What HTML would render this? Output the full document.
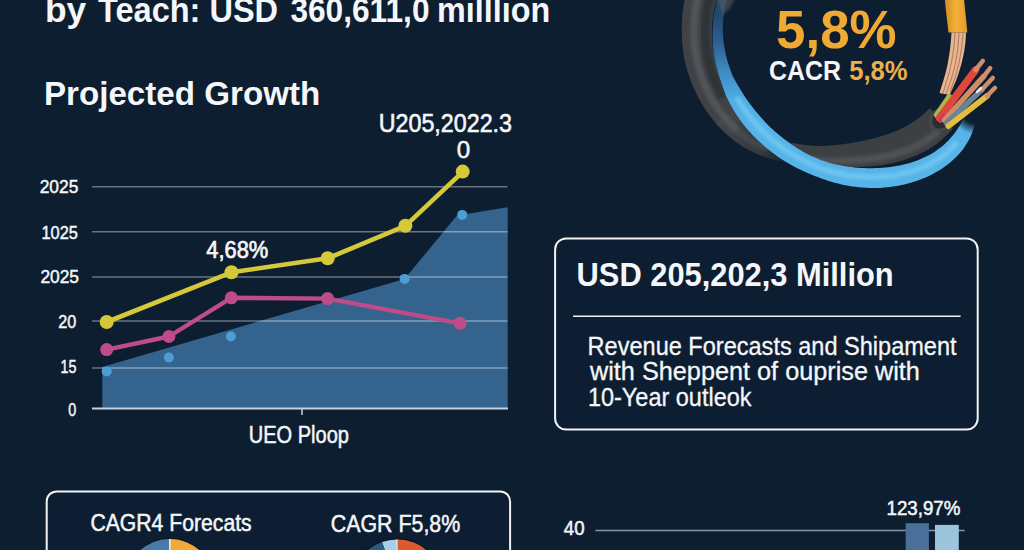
<!DOCTYPE html>
<html><head><meta charset="utf-8">
<style>
html,body{margin:0;padding:0;background:#0d1e31;}
body{width:1024px;height:550px;overflow:hidden;}
svg{display:block;}
text{font-family:"Liberation Sans",Arial,sans-serif;}
.w{fill:#f4f6f9;}
.b{font-weight:bold;}
.s5{stroke:#f4f6f9;stroke-width:0.5;}
.s3{stroke:#f4f6f9;stroke-width:0.3;}
</style></head>
<body>
<svg width="1024" height="550" viewBox="0 0 1024 550">
<rect x="0" y="0" width="1024" height="550" fill="#0d1e31"/>


<!-- Chart grid -->
<polygon points="102.3,408 102.3,367 404.5,279 457,215.5 507.7,207.3 507.7,408" fill="#34638d"/>
<g stroke="#ffffff" stroke-opacity="0.38" stroke-width="1.5">
<line x1="92" y1="186.8" x2="507.5" y2="186.8"/>
<line x1="92" y1="231.7" x2="507.5" y2="231.7"/>
<line x1="92" y1="276.9" x2="507.5" y2="276.9"/>
<line x1="92" y1="321.1" x2="507.5" y2="321.1"/>
<line x1="92" y1="368" x2="507.5" y2="368"/>
</g>
<line x1="92" y1="408.6" x2="508" y2="408.6" stroke="#c9d2dc" stroke-width="2"/>
<line x1="302" y1="408" x2="302" y2="415" stroke="#c9d2dc" stroke-width="1.5"/>


<!-- pink line -->
<polyline points="106.7,349.6 168.9,336.5 231.3,297.8 327.6,298.6 460.1,323.3" fill="none" stroke="#bd4c88" stroke-width="4.4" stroke-linejoin="round"/>
<g fill="#bd4c88">
<circle cx="106.7" cy="349.6" r="6.5"/><circle cx="168.9" cy="336.5" r="6.5"/><circle cx="231.3" cy="297.8" r="6.5"/><circle cx="327.6" cy="298.6" r="6.5"/><circle cx="460.1" cy="323.3" r="6.5"/>
</g>
<!-- yellow line -->
<polyline points="106.7,322 231.5,272.3 327.7,258.3 405.4,225.8 462.7,171.8" fill="none" stroke="#d5c839" stroke-width="4.6" stroke-linejoin="round"/>
<g fill="#d5c839">
<circle cx="106.7" cy="322" r="7"/><circle cx="231.5" cy="272.3" r="7"/><circle cx="327.7" cy="258.3" r="7"/><circle cx="405.4" cy="225.8" r="7"/><circle cx="462.7" cy="171.6" r="7"/>
</g>
<!-- blue dots -->
<g fill="#4c9fd2">
<circle cx="106.7" cy="371.4" r="5"/><circle cx="168.9" cy="357.5" r="5"/><circle cx="230.9" cy="336.5" r="5"/><circle cx="404.6" cy="278.9" r="5"/><circle cx="462.2" cy="214.9" r="5"/>
</g>


<!--CABLE_START-->
<defs>
  <linearGradient id="gBlue" gradientUnits="userSpaceOnUse" x1="0" y1="0" x2="0" y2="125">
    <stop offset="0" stop-color="#20425f"/>
    <stop offset="0.16" stop-color="#234c74"/>
    <stop offset="0.32" stop-color="#2b5e90"/>
    <stop offset="0.56" stop-color="#3d88c0"/>
    <stop offset="0.8" stop-color="#50ade2"/>
    <stop offset="1" stop-color="#57b4e8"/>
  </linearGradient>
  <linearGradient id="gDarkL" gradientUnits="userSpaceOnUse" x1="722" y1="118" x2="790" y2="168">
    <stop offset="0" stop-color="#45474b" stop-opacity="1"/>
    <stop offset="0.6" stop-color="#3e4044" stop-opacity="0.8"/>
    <stop offset="1" stop-color="#34373b" stop-opacity="0.15"/>
  </linearGradient>
  <linearGradient id="gGold" gradientUnits="userSpaceOnUse" x1="946" y1="0" x2="968" y2="0">
    <stop offset="0" stop-color="#d58f22"/>
    <stop offset="0.45" stop-color="#f4b23a"/>
    <stop offset="1" stop-color="#e09a28"/>
  </linearGradient>
  <radialGradient id="gEndFade" gradientUnits="userSpaceOnUse" cx="974" cy="112" r="22">
    <stop offset="0" stop-color="#000"/>
    <stop offset="0.5" stop-color="#000"/>
    <stop offset="1" stop-color="#fff"/>
  </radialGradient>
  <mask id="mBlue" maskUnits="userSpaceOnUse" x="600" y="-10" width="424" height="220">
    <rect x="600" y="-10" width="424" height="220" fill="url(#gEndFade)"/>
  </mask>
  <filter id="bl1" x="-20%" y="-20%" width="140%" height="140%"><feGaussianBlur stdDeviation="1.6"/></filter>
  <filter id="bl05" x="-20%" y="-20%" width="140%" height="140%"><feGaussianBlur stdDeviation="0.6"/></filter>
</defs>
<g>
<path d="M687.2,-10.8 L686.8,-9.6 L686.5,-8.3 L686.2,-7.0 L685.9,-5.8 L685.6,-4.5 L685.3,-3.3 L685.0,-2.0 L684.8,-0.7 L684.5,0.5 L684.3,1.8 L684.0,3.1 L683.8,4.3 L683.6,5.6 L683.4,6.9 L683.2,8.2 L683.1,9.4 L682.9,10.7 L682.8,12.0 L682.6,13.2 L682.5,14.5 L682.4,15.8 L682.3,17.0 L682.2,18.3 L682.1,19.6 L682.0,20.9 L681.9,22.1 L681.9,23.4 L681.9,24.7 L681.8,25.9 L681.8,27.2 L681.8,28.4 L681.8,29.7 L681.8,31.0 L681.8,32.2 L681.8,33.5 L681.9,34.7 L681.9,36.0 L681.9,37.3 L682.0,38.5 L682.1,39.8 L682.1,41.0 L682.2,42.3 L682.3,43.5 L682.4,44.8 L682.6,46.0 L682.7,47.2 L682.8,48.5 L683.0,49.7 L683.1,51.0 L683.3,52.2 L683.5,53.4 L683.7,54.7 L683.9,55.9 L684.1,57.1 L684.3,58.3 L684.5,59.6 L684.8,60.8 L685.0,62.0 L685.3,63.2 L685.6,64.4 L685.9,65.6 L686.3,66.8 L686.6,68.0 L686.9,69.2 L687.3,70.4 L687.6,71.5 L688.0,72.7 L688.4,73.9 L688.8,75.1 L689.1,76.2 L689.5,77.4 L690.0,78.5 L690.4,79.7 L690.8,80.8 L691.3,82.0 L691.7,83.1 L692.2,84.2 L692.6,85.4 L693.1,86.5 L693.6,87.6 L694.1,88.7 L694.6,89.8 L695.1,90.9 L695.6,92.0 L696.1,93.1 L696.7,94.2 L697.2,95.3 L697.8,96.4 L698.4,97.5 L698.9,98.5 L699.5,99.6 L700.1,100.6 L700.7,101.7 L701.3,102.7 L701.9,103.8 L702.5,104.8 L703.2,105.8 L703.8,106.9 L704.4,107.9 L705.1,108.9 L705.8,109.9 L706.4,110.9 L707.1,111.9 L707.8,112.9 L708.5,113.9 L709.2,114.8 L709.9,115.8 L710.6,116.7 L711.3,117.7 L712.1,118.6 L712.8,119.6 L713.6,120.5 L714.3,121.4 L715.1,122.4 L715.9,123.3 L716.7,124.2 L717.5,125.1 L718.3,125.9 L719.1,126.8 L738.7,109.4 L738.1,108.7 L737.5,108.0 L736.9,107.2 L736.3,106.5 L735.7,105.7 L735.1,105.0 L734.6,104.2 L734.0,103.4 L733.5,102.6 L732.9,101.8 L732.4,101.1 L731.8,100.3 L731.3,99.5 L730.8,98.7 L730.3,97.8 L729.8,97.0 L729.2,96.2 L728.8,95.4 L728.3,94.5 L727.8,93.7 L727.3,92.8 L726.8,92.0 L726.4,91.1 L725.9,90.3 L725.5,89.4 L725.1,88.6 L724.6,87.7 L724.2,86.8 L723.8,85.9 L723.4,85.0 L723.0,84.1 L722.6,83.3 L722.2,82.4 L721.8,81.5 L721.4,80.5 L721.1,79.6 L720.7,78.7 L720.4,77.8 L720.0,76.9 L719.7,76.0 L719.4,75.0 L719.0,74.1 L718.7,73.2 L718.4,72.2 L718.1,71.3 L717.8,70.3 L717.5,69.4 L717.3,68.4 L717.0,67.5 L716.7,66.5 L716.5,65.6 L716.2,64.6 L716.0,63.6 L715.8,62.7 L715.6,61.7 L715.3,60.7 L715.1,59.8 L714.9,58.8 L714.7,57.8 L714.6,56.8 L714.4,55.9 L714.2,54.9 L714.0,53.9 L713.8,52.9 L713.6,51.9 L713.5,51.0 L713.3,50.0 L713.2,49.0 L713.0,48.0 L712.9,47.0 L712.7,46.0 L712.6,45.0 L712.5,44.0 L712.4,43.0 L712.3,42.0 L712.2,41.0 L712.1,40.0 L712.1,39.0 L712.0,38.0 L712.0,37.0 L711.9,36.0 L711.9,35.0 L711.8,34.0 L711.8,33.0 L711.8,31.9 L711.8,30.9 L711.8,29.9 L711.8,28.9 L711.9,27.9 L711.9,26.9 L712.0,25.9 L712.0,24.9 L712.1,23.8 L712.2,22.8 L712.3,21.8 L712.4,20.8 L712.5,19.8 L712.6,18.8 L712.7,17.8 L712.8,16.8 L713.0,15.8 L713.1,14.8 L713.3,13.8 L713.4,12.7 L713.6,11.7 L713.8,10.7 L714.0,9.7 L714.2,8.7 L714.4,7.7 L714.6,6.7 L714.8,5.7 L715.1,4.7 L715.3,3.7 L715.5,2.7 L715.8,1.8 L716.1,0.8 L716.4,-0.2 L716.6,-1.2 L716.9,-2.2Z" fill="#404347" filter="url(#bl05)"/>
<path d="M716.4,123.9 L717.0,124.6 L717.6,125.2 L718.2,125.9 L718.8,126.6 L719.4,127.2 L720.0,127.9 L720.7,128.5 L721.3,129.2 L721.9,129.8 L722.5,130.4 L723.2,131.1 L723.8,131.7 L724.4,132.3 L725.1,132.9 L725.8,133.5 L726.4,134.1 L727.1,134.7 L727.7,135.3 L728.4,135.9 L729.1,136.5 L729.8,137.1 L730.4,137.6 L731.1,138.2 L731.8,138.8 L732.5,139.3 L733.2,139.9 L733.9,140.5 L734.6,141.0 L735.3,141.5 L736.1,142.1 L736.8,142.6 L737.5,143.1 L738.2,143.6 L739.0,144.1 L739.7,144.6 L740.5,145.1 L741.2,145.6 L742.0,146.1 L742.7,146.5 L743.5,147.0 L744.3,147.5 L745.0,147.9 L745.8,148.4 L746.6,148.8 L747.4,149.2 L748.2,149.7 L749.0,150.1 L749.8,150.5 L750.5,150.9 L751.4,151.3 L752.2,151.7 L753.0,152.1 L753.8,152.5 L754.6,152.9 L755.4,153.2 L756.2,153.6 L757.1,154.0 L757.9,154.3 L758.7,154.6 L759.5,155.0 L760.4,155.3 L761.2,155.6 L762.1,155.9 L762.9,156.2 L763.8,156.5 L764.6,156.8 L765.5,157.1 L766.3,157.4 L767.2,157.7 L768.0,157.9 L768.9,158.2 L769.7,158.5 L770.6,158.7 L771.5,158.9 L772.3,159.2 L773.2,159.4 L774.1,159.6 L774.9,159.9 L775.8,160.1 L776.7,160.3 L777.5,160.5 L778.4,160.7 L779.3,160.9 L780.2,161.0 L781.0,161.2 L781.9,161.4 L782.8,161.6 L783.7,161.7 L784.6,161.9 L785.5,162.0 L786.3,162.2 L787.2,162.4 L788.1,162.6 L789.0,162.7 L789.8,162.9 L790.7,163.1 L791.6,163.2 L792.5,163.4 L793.4,163.5 L794.3,163.7 L795.2,163.8 L796.0,164.0 L796.9,164.1 L797.8,164.2 L798.7,164.4 L799.6,164.5 L800.5,164.6 L801.4,164.7 L802.3,164.8 L803.2,164.9 L804.1,165.0 L805.0,165.1 L805.9,165.2 L806.8,165.3 L807.7,165.4 L808.6,165.5 L809.5,165.5 L810.4,165.6 L811.3,165.7 L812.7,145.7 L811.9,145.7 L811.1,145.6 L810.3,145.5 L809.5,145.5 L808.6,145.4 L807.8,145.3 L807.0,145.2 L806.2,145.1 L805.4,145.0 L804.6,145.0 L803.8,144.9 L803.0,144.8 L802.2,144.7 L801.4,144.5 L800.7,144.4 L799.9,144.3 L799.1,144.2 L798.3,144.1 L797.5,144.0 L796.7,143.8 L795.9,143.7 L795.2,143.6 L794.4,143.4 L793.6,143.3 L792.9,143.1 L792.1,143.0 L791.3,142.8 L790.6,142.6 L789.8,142.4 L789.1,142.2 L788.3,142.0 L787.6,141.8 L786.9,141.5 L786.1,141.3 L785.4,141.1 L784.7,140.8 L783.9,140.6 L783.2,140.3 L782.5,140.1 L781.8,139.8 L781.1,139.6 L780.4,139.3 L779.7,139.0 L779.0,138.8 L778.3,138.5 L777.6,138.2 L776.9,137.9 L776.2,137.6 L775.6,137.3 L774.9,137.0 L774.2,136.7 L773.6,136.4 L772.9,136.1 L772.2,135.8 L771.6,135.5 L770.9,135.2 L770.3,134.8 L769.7,134.5 L769.0,134.2 L768.4,133.8 L767.8,133.5 L767.1,133.1 L766.5,132.8 L765.9,132.4 L765.3,132.1 L764.7,131.7 L764.1,131.3 L763.5,131.0 L762.8,130.6 L762.3,130.2 L761.7,129.8 L761.1,129.4 L760.5,129.0 L759.9,128.6 L759.3,128.2 L758.7,127.8 L758.2,127.4 L757.6,127.0 L757.0,126.6 L756.5,126.2 L755.9,125.7 L755.3,125.3 L754.8,124.9 L754.2,124.4 L753.7,124.0 L753.1,123.5 L752.6,123.1 L752.0,122.7 L751.5,122.2 L751.0,121.8 L750.4,121.3 L749.9,120.8 L749.3,120.4 L748.8,119.9 L748.3,119.4 L747.8,119.0 L747.3,118.5 L746.7,118.0 L746.2,117.5 L745.7,117.0 L745.2,116.5 L744.7,116.0 L744.2,115.5 L743.7,115.0 L743.2,114.5 L742.7,114.0 L742.3,113.5 L741.8,113.0 L741.3,112.4 L740.8,111.9 L740.3,111.4 L739.9,110.8 L739.4,110.3 L739.0,109.8 L738.5,109.2 L738.0,108.7 L737.6,108.1 L737.1,107.6 L736.7,107.0Z" fill="url(#gDarkL)" filter="url(#bl05)"/>
<path d="M787.7,162.5 L789.1,162.8 L790.6,163.0 L792.0,163.3 L793.4,163.6 L794.9,163.8 L796.3,164.0 L797.8,164.2 L799.2,164.4 L800.7,164.6 L802.2,164.8 L803.6,165.0 L805.1,165.1 L806.5,165.3 L808.0,165.4 L809.5,165.5 L810.9,165.6 L812.4,165.7 L813.9,165.8 L815.4,165.9 L816.8,166.0 L818.3,166.1 L819.8,166.2 L821.2,166.3 L822.7,166.4 L824.2,166.5 L825.7,166.6 L827.1,166.7 L828.6,166.8 L830.1,166.9 L831.6,167.0 L833.0,167.0 L834.5,167.1 L836.0,167.1 L837.5,167.2 L839.0,167.2 L840.4,167.2 L841.9,167.3 L843.4,167.3 L844.8,167.3 L846.3,167.3 L847.8,167.3 L849.2,167.2 L850.7,167.2 L852.2,167.2 L853.6,167.2 L855.1,167.1 L856.5,167.1 L858.0,167.1 L859.5,167.0 L860.9,167.0 L862.4,166.9 L863.8,166.8 L865.3,166.7 L866.7,166.6 L868.2,166.5 L869.7,166.4 L871.1,166.3 L872.6,166.2 L874.0,166.1 L875.5,165.9 L876.9,165.8 L878.4,165.6 L879.8,165.4 L881.3,165.2 L882.7,165.0 L884.2,164.8 L885.6,164.6 L887.0,164.3 L888.5,164.0 L889.9,163.7 L891.3,163.4 L892.7,163.1 L894.2,162.7 L895.6,162.4 L897.0,162.0 L898.4,161.6 L899.8,161.2 L901.2,160.8 L902.6,160.4 L904.0,160.0 L905.4,159.5 L906.8,159.1 L908.2,158.6 L909.6,158.1 L910.9,157.6 L912.3,157.1 L913.7,156.5 L915.0,156.0 L916.4,155.4 L917.8,154.8 L919.1,154.2 L920.5,153.6 L921.8,153.0 L923.1,152.3 L924.5,151.6 L925.8,150.9 L927.1,150.2 L928.4,149.5 L929.6,148.7 L930.9,147.8 L932.1,147.0 L933.4,146.2 L934.6,145.3 L935.8,144.4 L937.1,143.5 L938.3,142.6 L939.4,141.6 L940.6,140.6 L941.8,139.7 L943.0,138.7 L944.1,137.6 L945.2,136.6 L946.4,135.5 L947.5,134.4 L948.6,133.3 L949.7,132.2 L950.7,131.1 L951.8,129.9 L952.8,128.7 L929.6,108.2 L928.9,109.0 L928.1,109.8 L927.3,110.6 L926.5,111.4 L925.8,112.2 L925.0,112.9 L924.2,113.6 L923.3,114.4 L922.5,115.1 L921.7,115.8 L920.8,116.4 L920.0,117.1 L919.1,117.8 L918.3,118.4 L917.4,119.0 L916.5,119.7 L915.6,120.3 L914.7,120.9 L913.8,121.4 L912.9,122.0 L912.0,122.6 L911.0,123.1 L910.1,123.7 L909.2,124.3 L908.3,124.9 L907.3,125.4 L906.4,126.0 L905.4,126.5 L904.4,127.0 L903.4,127.6 L902.4,128.1 L901.4,128.6 L900.4,129.1 L899.4,129.5 L898.4,130.0 L897.3,130.5 L896.3,130.9 L895.2,131.4 L894.1,131.8 L893.0,132.2 L891.9,132.7 L890.8,133.1 L889.7,133.5 L888.6,133.9 L887.5,134.2 L886.3,134.6 L885.2,135.0 L884.0,135.3 L882.9,135.7 L881.7,136.0 L880.5,136.4 L879.3,136.7 L878.1,137.0 L876.9,137.4 L875.7,137.7 L874.5,138.0 L873.3,138.4 L872.1,138.7 L870.8,139.0 L869.6,139.3 L868.3,139.6 L867.1,139.9 L865.8,140.2 L864.5,140.5 L863.3,140.8 L862.0,141.1 L860.7,141.3 L859.4,141.6 L858.1,141.8 L856.8,142.1 L855.5,142.3 L854.1,142.6 L852.8,142.8 L851.5,143.0 L850.2,143.2 L848.8,143.4 L847.5,143.6 L846.1,143.8 L844.8,144.0 L843.4,144.2 L842.1,144.3 L840.7,144.5 L839.4,144.7 L838.0,144.8 L836.7,144.9 L835.3,145.1 L834.0,145.2 L832.6,145.3 L831.3,145.4 L829.9,145.5 L828.5,145.6 L827.2,145.7 L825.8,145.8 L824.5,145.9 L823.1,146.0 L821.8,146.0 L820.4,146.1 L819.1,146.1 L817.7,146.0 L816.4,145.9 L815.1,145.9 L813.7,145.8 L812.4,145.7 L811.1,145.6 L809.8,145.5 L808.4,145.4 L807.1,145.2 L805.8,145.1 L804.5,144.9 L803.2,144.8 L801.9,144.6 L800.6,144.4 L799.3,144.2 L798.1,144.0 L796.8,143.8 L795.5,143.6 L794.3,143.4 L793.0,143.1 L791.8,142.9Z" fill="#3d3f43" filter="url(#bl05)"/>
<path d="M699.1,-7.4 L698.7,-6.1 L698.4,-4.8 L698.0,-3.5 L697.7,-2.3 L697.4,-1.0 L697.1,0.3 L696.8,1.6 L696.6,2.9 L696.3,4.2 L696.1,5.5 L695.8,6.8 L695.6,8.1 L695.4,9.3 L695.2,10.6 L695.0,11.9 L694.9,13.2 L694.7,14.5 L694.6,15.8 L694.4,17.1 L694.3,18.4 L694.2,19.7 L694.1,21.0 L694.0,22.3 L694.0,23.6 L693.9,24.9 L693.9,26.2 L693.8,27.5 L693.8,28.8 L693.8,30.1 L693.8,31.3 L693.8,32.6 L693.8,33.9 L693.9,35.2 L693.9,36.5 L694.0,37.8 L694.0,39.1 L694.1,40.3 L694.2,41.6 L694.3,42.9 L694.4,44.2 L694.6,45.4 L694.7,46.7 L694.9,48.0 L695.0,49.3 L695.2,50.5 L695.4,51.8 L695.6,53.0 L695.8,54.3 L696.0,55.5 L696.2,56.8 L696.5,58.0 L696.7,59.3 L697.0,60.5 L697.3,61.8 L697.6,63.0 L697.9,64.2 L698.2,65.5 L698.5,66.7 L698.8,67.9 L699.2,69.1 L699.5,70.3 L699.9,71.5 L700.3,72.7 L700.7,73.9 L701.1,75.1 L701.5,76.3 L701.9,77.5 L702.3,78.7 L702.8,79.8 L703.2,81.0 L703.7,82.2 L704.2,83.3 L704.6,84.5 L705.1,85.6 L705.6,86.8 L706.2,87.9 L706.7,89.0 L707.2,90.2 L707.8,91.3 L708.3,92.4 L708.9,93.5 L709.4,94.6 L710.0,95.7 L710.6,96.8 L711.2,97.8 L711.8,98.9 L712.4,100.0 L713.1,101.1 L713.7,102.1 L714.4,103.2 L715.0,104.2 L715.7,105.2 L716.4,106.2 L717.1,107.3 L717.8,108.3 L718.5,109.3 L719.2,110.3 L719.9,111.3 L720.6,112.2 L721.4,113.2 L722.1,114.2 L722.9,115.1 L723.7,116.1 L724.4,117.0 L725.2,117.9 L726.0,118.9 L726.8,119.8 L727.6,120.7 L728.5,121.6 L729.3,122.5 L730.1,123.3 L731.0,124.2 L731.9,125.1 L732.7,125.9 L733.6,126.7 L734.5,127.6 L735.4,128.4 L736.3,129.2 L737.2,130.0" fill="none" stroke="#55575a" stroke-width="7" filter="url(#bl1)" opacity="0.9"/>
<path d="M731.5,125.5 L731.8,125.7 L732.1,126.0 L732.3,126.2 L732.6,126.5 L732.8,126.7 L733.1,127.0 L733.4,127.2 L733.6,127.5 L733.9,127.7 L734.2,128.0 L734.4,128.2 L734.7,128.5 L735.0,128.7 L735.3,129.0 L735.5,129.2 L735.8,129.5 L736.1,129.7 L736.3,129.9 L736.6,130.2 L736.9,130.4 L737.2,130.7 L737.5,130.9 L737.7,131.1 L738.0,131.4 L738.3,131.6 L738.6,131.8 L738.9,132.1 L739.1,132.3 L739.4,132.5 L739.7,132.8 L740.0,133.0 L740.3,133.2 L740.6,133.5 L740.8,133.7 L741.1,133.9 L741.4,134.1 L741.7,134.4 L742.0,134.6 L742.3,134.8 L742.6,135.0 L742.9,135.2 L743.2,135.5 L743.4,135.7 L743.7,135.9 L744.0,136.1 L744.3,136.3 L744.6,136.5 L744.9,136.7 L745.2,137.0 L745.5,137.2 L745.8,137.4 L746.1,137.6 L746.4,137.8 L746.7,138.0 L747.0,138.2 L747.3,138.4 L747.6,138.6 L747.9,138.8 L748.3,139.0 L748.6,139.2 L748.9,139.4 L749.2,139.6 L749.5,139.8 L749.8,140.0 L750.1,140.2 L750.4,140.4 L750.7,140.6 L751.0,140.8 L751.3,140.9 L751.7,141.1 L752.0,141.3 L752.3,141.5 L752.6,141.7 L752.9,141.9 L753.2,142.1 L753.6,142.2 L753.9,142.4 L754.2,142.6 L754.5,142.8 L754.8,143.0 L755.2,143.1 L755.5,143.3 L755.8,143.5 L756.1,143.7 L756.4,143.8 L756.8,144.0 L757.1,144.2 L757.4,144.3 L757.7,144.5 L758.1,144.7 L758.4,144.8 L758.7,145.0 L759.1,145.2 L759.4,145.3 L759.7,145.5 L760.1,145.6 L760.4,145.8 L760.7,146.0 L761.1,146.1 L761.4,146.3 L761.7,146.4 L762.1,146.6 L762.4,146.7 L762.7,146.9 L763.1,147.0 L763.4,147.2 L763.7,147.3 L764.1,147.5 L764.4,147.6 L764.8,147.8 L765.1,147.9 L765.4,148.0 L765.8,148.2 L766.1,148.3 L766.5,148.5 L766.8,148.6 L767.2,148.7 L767.5,148.9 L767.8,149.0" fill="none" stroke="#55575a" stroke-width="6" filter="url(#bl1)" opacity="0.45"/>
<path d="M811.7,160.1 L812.8,160.2 L814.0,160.2 L815.1,160.3 L816.2,160.4 L817.4,160.4 L818.5,160.5 L819.7,160.5 L820.8,160.6 L822.0,160.6 L823.1,160.7 L824.2,160.7 L825.4,160.8 L826.5,160.8 L827.7,160.9 L828.8,160.9 L830.0,160.9 L831.1,160.9 L832.3,161.0 L833.4,161.0 L834.6,161.0 L835.7,161.0 L836.9,161.0 L838.0,160.9 L839.2,160.9 L840.3,160.9 L841.4,160.9 L842.6,160.9 L843.7,160.8 L844.9,160.8 L846.0,160.7 L847.1,160.7 L848.3,160.7 L849.4,160.6 L850.6,160.5 L851.7,160.5 L852.8,160.4 L854.0,160.4 L855.1,160.3 L856.2,160.2 L857.4,160.1 L858.5,160.1 L859.6,160.0 L860.7,159.9 L861.9,159.8 L863.0,159.7 L864.1,159.6 L865.2,159.5 L866.3,159.3 L867.5,159.2 L868.6,159.1 L869.7,159.0 L870.8,158.8 L871.9,158.7 L873.0,158.5 L874.1,158.4 L875.2,158.2 L876.4,158.1 L877.5,157.9 L878.6,157.7 L879.7,157.5 L880.8,157.3 L881.9,157.2 L882.9,156.9 L884.0,156.7 L885.1,156.5 L886.2,156.3 L887.3,156.0 L888.4,155.8 L889.4,155.5 L890.5,155.2 L891.6,155.0 L892.6,154.7 L893.7,154.4 L894.8,154.1 L895.8,153.8 L896.9,153.5 L897.9,153.2 L899.0,152.8 L900.0,152.5 L901.1,152.2 L902.1,151.8 L903.1,151.4 L904.2,151.1 L905.2,150.7 L906.2,150.3 L907.2,149.9 L908.3,149.5 L909.3,149.1 L910.3,148.7 L911.3,148.3 L912.3,147.8 L913.3,147.4 L914.3,146.9 L915.3,146.5 L916.3,146.0 L917.2,145.5 L918.2,145.0 L919.2,144.5 L920.2,144.0 L921.1,143.5 L922.1,142.9 L923.0,142.4 L924.0,141.8 L924.9,141.2 L925.8,140.6 L926.7,140.0 L927.7,139.4 L928.6,138.8 L929.5,138.2 L930.4,137.5 L931.3,136.9 L932.1,136.2 L933.0,135.5 L933.9,134.8 L934.8,134.1 L935.6,133.4 L936.5,132.7 L937.3,132.0 L938.2,131.2" fill="none" stroke="#4f5155" stroke-width="7" filter="url(#bl1)"/>
<path d="M710.4,-4.1 L710.1,-3.2 L709.9,-2.4 L709.6,-1.5 L709.4,-0.6 L709.2,0.3 L709.0,1.1 L708.7,2.0 L708.5,2.9 L708.3,3.8 L708.1,4.7 L707.9,5.5 L707.8,6.4 L707.6,7.3 L707.4,8.2 L707.2,9.1 L707.1,10.0 L706.9,10.8 L706.8,11.7 L706.6,12.6 L706.5,13.5 L706.4,14.4 L706.3,15.3 L706.2,16.2 L706.0,17.1 L705.9,18.0 L705.9,18.8 L705.8,19.7 L705.7,20.6 L705.6,21.5 L705.5,22.4 L705.5,23.3 L705.4,24.2 L705.4,25.1 L705.3,26.0 L705.3,26.8 L705.3,27.7 L705.2,28.6 L705.2,29.5 L705.2,30.4 L705.2,31.3 L705.2,32.2 L705.2,33.1 L705.2,34.0 L705.3,34.8 L705.3,35.7 L705.3,36.6 L705.4,37.5 L705.4,38.4 L705.5,39.3 L705.5,40.1 L705.6,41.0 L705.7,41.9 L705.8,42.8 L705.8,43.7 L705.9,44.5 L706.0,45.4 L706.1,46.3 L706.2,47.2 L706.4,48.0 L706.5,48.9 L706.6,49.8 L706.7,50.7 L706.9,51.5 L707.0,52.4 L707.2,53.3 L707.3,54.1 L707.5,55.0 L707.7,55.8 L707.8,56.7 L708.0,57.6 L708.2,58.4 L708.3,59.3 L708.5,60.1 L708.7,61.0 L708.9,61.8 L709.1,62.7 L709.3,63.5 L709.5,64.4 L709.7,65.2 L709.9,66.1 L710.2,66.9 L710.4,67.7 L710.6,68.6 L710.9,69.4 L711.1,70.2 L711.4,71.1 L711.6,71.9 L711.9,72.7 L712.2,73.5 L712.4,74.4 L712.7,75.2 L713.0,76.0 L713.3,76.8 L713.6,77.6 L713.9,78.4 L714.2,79.2 L714.5,80.0 L714.8,80.8 L715.2,81.6 L715.5,82.4 L715.8,83.2 L716.2,84.0 L716.5,84.8 L716.9,85.6 L717.2,86.4 L717.6,87.2 L717.9,87.9 L718.3,88.7 L718.7,89.5 L719.1,90.2 L719.5,91.0 L719.8,91.7 L720.2,92.5 L720.6,93.3 L721.1,94.0 L721.5,94.7 L721.9,95.5 L722.3,96.2 L722.7,97.0" fill="none" stroke="#2c3136" stroke-width="9" filter="url(#bl1)" opacity="0.85"/>
<g mask="url(#mBlue)">
<path d="M719.1,-7.6 L718.0,-4.1 L717.0,-0.6 L716.2,2.9 L715.4,6.4 L714.7,9.9 L714.1,13.4 L713.6,16.9 L713.3,20.4 L713.0,23.8 L712.8,27.3 L712.7,30.8 L712.6,34.3 L712.7,37.7 L712.8,41.2 L713.0,44.6 L713.3,48.1 L713.7,51.5 L714.2,54.9 L714.7,58.3 L715.4,61.7 L716.1,65.0 L717.0,68.4 L717.9,71.7 L718.8,75.0 L719.9,78.3 L721.0,81.6 L722.1,84.9 L723.2,88.2 L724.4,91.5 L725.6,94.7 L727.1,97.9 L728.6,101.0 L730.2,104.1 L731.9,107.2 L733.7,110.3 L735.6,113.2 L737.5,116.2 L739.5,119.1 L741.6,121.9 L743.7,124.7 L745.9,127.5 L748.2,130.2 L750.6,132.8 L753.0,135.4 L755.5,137.9 L758.1,140.4 L760.6,142.8 L763.3,145.2 L765.9,147.5 L768.7,149.8 L771.5,152.0 L774.3,154.1 L777.1,156.2 L780.0,158.2 L783.0,160.1 L786.0,162.0 L789.1,163.8 L792.2,165.5 L795.3,167.2 L798.5,168.7 L801.7,170.3 L804.9,171.8 L808.1,173.2 L811.3,174.6 L814.6,175.9 L817.9,177.1 L821.2,178.4 L824.6,179.5 L827.9,180.7 L831.3,181.7 L834.7,182.7 L838.1,183.6 L841.5,184.4 L845.0,185.2 L848.5,185.8 L852.0,186.4 L855.5,186.8 L859.0,187.2 L862.6,187.5 L866.1,187.8 L869.7,187.9 L873.3,188.0 L876.8,188.0 L880.4,187.9 L884.0,187.6 L887.6,187.3 L891.1,186.8 L894.7,186.3 L898.2,185.7 L901.8,185.0 L905.3,184.2 L908.8,183.3 L912.2,182.3 L915.6,181.2 L919.0,180.1 L922.4,178.8 L925.7,177.4 L929.0,175.9 L932.2,174.3 L935.4,172.6 L938.5,170.8 L941.5,168.9 L944.5,166.8 L947.4,164.7 L950.2,162.4 L952.9,160.1 L955.6,157.6 L958.1,155.0 L960.5,152.3 L962.8,149.4 L964.9,146.4 L966.9,143.3 L968.8,140.1 L970.5,136.7 L972.0,133.3 L973.2,129.6 L974.3,125.9 L975.1,122.1 L975.8,118.3 L965.3,115.3 L963.8,118.4 L962.3,121.3 L960.7,124.1 L958.9,126.8 L957.2,129.4 L955.5,131.9 L953.8,134.3 L951.9,136.6 L949.9,138.8 L947.9,140.9 L945.8,142.9 L943.7,144.9 L941.5,146.8 L939.2,148.6 L936.8,150.3 L934.4,151.9 L931.9,153.5 L929.3,154.9 L926.7,156.3 L924.0,157.6 L921.3,158.8 L918.5,159.9 L915.6,161.0 L912.8,162.0 L909.8,162.9 L906.9,163.7 L903.9,164.5 L900.9,165.2 L897.9,165.8 L894.8,166.3 L891.8,166.8 L888.7,167.2 L885.6,167.5 L882.5,167.7 L879.3,167.9 L876.2,168.1 L873.1,168.2 L870.0,168.3 L866.9,168.2 L863.7,168.1 L860.6,168.0 L857.5,167.7 L854.4,167.4 L851.3,167.1 L848.2,166.7 L845.1,166.2 L842.0,165.7 L838.9,165.1 L835.8,164.4 L832.8,163.7 L829.7,162.9 L826.7,162.0 L823.7,161.1 L820.7,160.0 L817.8,158.8 L814.9,157.6 L812.0,156.3 L809.1,155.0 L806.3,153.5 L803.5,151.9 L800.8,150.3 L798.1,148.7 L795.4,147.0 L792.8,145.2 L790.2,143.4 L787.6,141.6 L785.0,139.7 L782.5,137.8 L780.0,135.8 L777.6,133.8 L775.2,131.7 L772.8,129.6 L770.5,127.4 L768.2,125.2 L766.0,122.9 L763.8,120.6 L761.7,118.2 L759.6,115.8 L757.6,113.5 L755.5,111.0 L753.5,108.6 L751.6,106.1 L749.7,103.6 L747.9,101.0 L746.1,98.4 L744.3,95.8 L742.6,93.1 L741.0,90.5 L739.4,87.8 L737.7,85.1 L736.1,82.3 L734.6,79.6 L733.1,76.8 L731.9,73.9 L730.8,70.9 L729.7,68.0 L728.7,65.0 L727.7,62.0 L726.9,59.0 L726.1,55.9 L725.4,52.8 L724.8,49.7 L724.2,46.6 L723.8,43.5 L723.4,40.4 L723.1,37.2 L722.9,34.0 L722.7,30.8 L722.8,27.6 L722.9,24.4 L723.1,21.2 L723.4,18.0 L723.8,14.8 L724.3,11.5 L724.9,8.3 L725.5,5.0 L726.3,1.8 L727.2,-1.4 L728.2,-4.7Z" fill="url(#gBlue)" filter="url(#bl05)"/>
<path d="M736.5,97.1 L737.6,99.0 L738.8,100.8 L739.9,102.7 L741.1,104.5 L742.3,106.3 L743.5,108.2 L744.8,109.9 L746.1,111.7 L747.4,113.5 L748.7,115.2 L750.1,117.0 L751.4,118.7 L752.9,120.4 L754.3,122.0 L755.7,123.7 L757.2,125.3 L758.7,126.9 L760.2,128.5 L761.7,130.1 L763.3,131.7 L764.9,133.2 L766.5,134.7 L768.1,136.2 L769.7,137.7 L771.4,139.1 L773.1,140.6 L774.8,142.0 L776.5,143.3 L778.2,144.7 L780.0,146.0 L781.8,147.4 L783.6,148.6 L785.4,149.9 L787.2,151.1 L789.0,152.4 L790.9,153.5 L792.8,154.7 L794.7,155.8 L796.6,157.0 L798.5,158.0 L800.4,159.1 L802.3,160.1 L804.3,161.1 L806.3,162.1 L808.3,163.0 L810.3,163.9 L812.3,164.8 L814.3,165.7 L816.3,166.5 L818.4,167.3 L820.4,168.1 L822.5,168.8 L824.6,169.5 L826.7,170.2 L828.8,170.8 L830.9,171.4 L833.0,172.0 L835.1,172.5 L837.2,173.1 L839.4,173.6 L841.5,174.0 L843.7,174.4 L845.8,174.8 L848.0,175.2 L850.1,175.5 L852.3,175.8 L854.5,176.1 L856.6,176.3 L858.8,176.5 L861.0,176.7 L863.2,176.9 L865.4,177.0 L867.6,177.1 L869.8,177.1 L872.0,177.1 L874.1,177.1 L876.3,177.1 L878.5,177.0 L880.7,176.8 L882.9,176.7 L885.1,176.5 L887.3,176.3 L889.5,176.1 L891.7,175.8 L893.8,175.5 L896.0,175.1 L898.2,174.7 L900.3,174.3 L902.5,173.8 L904.6,173.3 L906.7,172.8 L908.8,172.2 L910.9,171.6 L913.0,171.0 L915.1,170.3 L917.1,169.6 L919.1,168.8 L921.2,168.0 L923.1,167.2 L925.1,166.3 L927.1,165.4 L929.0,164.5 L930.9,163.5 L932.8,162.4 L934.6,161.3 L936.5,160.2 L938.3,159.1 L940.0,157.9 L941.8,156.6 L943.5,155.4 L945.1,154.0 L946.8,152.7 L948.4,151.2 L949.9,149.8 L951.4,148.3 L952.9,146.7 L954.3,145.2 L955.7,143.5 L957.1,141.9" fill="none" stroke="#76caf3" stroke-width="5.5" filter="url(#bl1)" opacity="0.75"/>
</g>
<path d="M716,-3 L735,-3 L730,8 L723,15 Z" fill="#5d6168" opacity="0.55" filter="url(#bl1)"/>
  <!-- gold cable -->
  <path d="M944.6,-4 C945.5,10 947.5,22 948.5,32.5 L967.3,32.5 C966.5,22 965,10 963.7,-4 Z" fill="url(#gGold)"/>
  <!-- copper strands -->
  <path d="M951.5,32.5 L966,32.5 C965.5,50 962,64 957,78 C954,86 951,92 949.5,95 L939.5,93 C942,85 945,76 947.5,65 C950,52 951,42 951.5,32.5Z" fill="#e6b690"/>
  <g fill="none" stroke="#b8785f" stroke-width="1.2" opacity="0.9">
    <path d="M955,33 C954.5,50 951,70 943,93"/>
    <path d="M959,33 C958.5,52 955,72 946,94"/>
    <path d="M963,33 C962,54 958,72 950,92"/>
  </g>
  <!-- cable end face -->
  <ellipse cx="941" cy="119.5" rx="11" ry="13.5" transform="rotate(40 941 119.5)" fill="#44474b"/>
  <ellipse cx="942" cy="118.5" rx="8.5" ry="11" transform="rotate(40 942 118.5)" fill="#2a2c30"/>
  <!-- wires -->
  <g fill="none" stroke-linecap="round">
    <path d="M937,115 L949.3,97" stroke="#a9b74c" stroke-width="6"/>
    <path d="M939.5,118 L975.5,70" stroke="#e0473a" stroke-width="7.5"/>
    <path d="M940.5,121 L944,116" stroke="#c2386a" stroke-width="4"/>
    <path d="M944.5,120 L983.7,76.4" stroke="#d08c66" stroke-width="5.5"/>
    <path d="M946.5,123 L982,89.5" stroke="#6c8396" stroke-width="5.5"/>
    <path d="M948.5,126 L987,96" stroke="#e2bd3e" stroke-width="6"/>
    <g stroke="#cf8e6c" stroke-width="4.5">
      <path d="M975.5,70 L982.8,60.8"/><path d="M983.7,76.4 L990.2,68.2"/><path d="M982,89.5 L992.7,78"/><path d="M987,96 L995,87.8"/>
    </g>
    <path d="M977,92 L981,88" stroke="#e6eef4" stroke-width="2.5"/>
  </g>
</g>
<!--CABLE_END-->

<!-- Box 1 -->
<rect x="555.1" y="238.4" width="422.6" height="191.2" rx="11" fill="#0d1e32" stroke="#f0f2f5" stroke-width="2"/>
<line x1="573" y1="316.2" x2="960.6" y2="316.2" stroke="#eef1f5" stroke-width="1.6"/>

<!-- Box 2 -->
<rect x="46.7" y="491.4" width="463.4" height="100" rx="10" fill="#0d1e32" stroke="#f0f2f5" stroke-width="2"/>
<!-- pie 1 -->
<circle cx="169.8" cy="584" r="46" fill="#0b1626"/>
<path d="M169.8,584 L169.8,539 A45,45 0 0,0 124.8,584 Z" fill="#4a79a9"/>
<path d="M169.8,584 L169.8,539 A45,45 0 0,1 214.8,584 Z" fill="#f1a93a"/>
<line x1="169.8" y1="539" x2="169.8" y2="584" stroke="#e8ecef" stroke-width="1.6"/>
<!-- pie 2 -->
<circle cx="397" cy="585" r="47" fill="#0b1626"/>
<path d="M397,585 L397,539.4 A45.6,45.6 0 0,1 442.6,585 Z" fill="#dc5a2c"/>
<path d="M397,585 L397,539.4 A45.6,45.6 0 0,0 382,542 Z" fill="#a7d0e8"/>
<path d="M397,585 L382,542 A45.6,45.6 0 0,0 351.4,585 Z" fill="#2d5a82"/>
<line x1="397" y1="539.4" x2="397" y2="585" stroke="#e8ecef" stroke-width="1.2"/>

<!-- bottom right bars -->
<line x1="595.5" y1="530.4" x2="964.7" y2="530.4" stroke="#8797aa" stroke-width="1.5"/>
<rect x="905.7" y="523.2" width="23.2" height="30" fill="#4a709a"/>
<rect x="935" y="524.9" width="23.8" height="30" fill="#9cc4dd"/>
<!--TEXT_START-->
<text id="t_by" x="44.91" y="21.60" font-size="35" fill="#f4f6f9" textLength="41.28" lengthAdjust="spacingAndGlyphs" font-weight="bold">by</text>
<text id="t_teach" x="98.00" y="21.60" font-size="35" fill="#f4f6f9" textLength="102.45" lengthAdjust="spacingAndGlyphs" font-weight="bold">Teach:</text>
<text id="t_usd" x="209.45" y="21.60" font-size="35" fill="#f4f6f9" textLength="68.66" lengthAdjust="spacingAndGlyphs" font-weight="bold">USD</text>
<text id="t_num" x="290.40" y="21.60" font-size="35" fill="#f4f6f9" textLength="139.11" lengthAdjust="spacingAndGlyphs" font-weight="bold">360,611,0</text>
<text id="t_mil" x="437.06" y="21.60" font-size="35" fill="#f4f6f9" textLength="113.07" lengthAdjust="spacingAndGlyphs" font-weight="bold">milllion</text>
<text id="t_pg" x="43.97" y="104.70" font-size="33.4" fill="#f4f6f9" textLength="276.25" lengthAdjust="spacingAndGlyphs" font-weight="bold">Projected Growth</text>
<text id="y1" x="39.69" y="192.90" font-size="19" fill="#f4f6f9" textLength="38.62" lengthAdjust="spacingAndGlyphs" stroke="#f4f6f9" stroke-width="0.5">2025</text>
<text id="y2" x="41.48" y="238.50" font-size="19" fill="#f4f6f9" textLength="36.36" lengthAdjust="spacingAndGlyphs" stroke="#f4f6f9" stroke-width="0.5">1025</text>
<text id="y3" x="40.39" y="283.10" font-size="19" fill="#f4f6f9" textLength="38.61" lengthAdjust="spacingAndGlyphs" stroke="#f4f6f9" stroke-width="0.5">2025</text>
<text id="y4" x="58.27" y="327.90" font-size="19" fill="#f4f6f9" textLength="18.05" lengthAdjust="spacingAndGlyphs" stroke="#f4f6f9" stroke-width="0.5">20</text>
<text id="y5" x="60.46" y="372.60" font-size="19" fill="#f4f6f9" textLength="15.86" lengthAdjust="spacingAndGlyphs" stroke="#f4f6f9" stroke-width="0.5">15</text>
<text id="y6" x="68.33" y="416.30" font-size="19" fill="#f4f6f9" textLength="7.99" lengthAdjust="spacingAndGlyphs" stroke="#f4f6f9" stroke-width="0.5">0</text>
<text id="l_468" x="206.29" y="258.40" font-size="23.5" fill="#f4f6f9" textLength="62.02" lengthAdjust="spacingAndGlyphs" stroke="#f4f6f9" stroke-width="0.7">4,68%</text>
<text id="l_u205" x="378.70" y="131.60" font-size="26" fill="#f4f6f9" textLength="133.30" lengthAdjust="spacingAndGlyphs" stroke="#f4f6f9" stroke-width="0.6">U205,2022.3</text>
<text id="l_0" x="456.79" y="157.70" font-size="23" fill="#f4f6f9" textLength="13.43" lengthAdjust="spacingAndGlyphs" stroke="#f4f6f9" stroke-width="0.5">0</text>
<text id="l_ueo" x="248.79" y="443.40" font-size="23" fill="#f4f6f9" textLength="100.21" lengthAdjust="spacingAndGlyphs" stroke="#f4f6f9" stroke-width="0.5">UEO Ploop</text>
<text id="c_58" x="776.07" y="48.00" font-size="53" fill="#f0aa34" textLength="120.45" lengthAdjust="spacingAndGlyphs" font-weight="bold">5,8%</text>
<text id="c_cacr" x="769.00" y="79.80" font-size="27.5" fill="#f4f6f9" textLength="72.00" lengthAdjust="spacingAndGlyphs" font-weight="bold">CACR</text>
<text id="c_58s" x="849.18" y="79.80" font-size="27.5" fill="#ebb04a" textLength="58.42" lengthAdjust="spacingAndGlyphs" font-weight="bold">5,8%</text>
<text id="b_usd" x="576.59" y="285.90" font-size="32.5" fill="#f4f6f9" textLength="317.12" lengthAdjust="spacingAndGlyphs" font-weight="bold">USD 205,202,3 Million</text>
<text id="b_l1" x="587.60" y="354.60" font-size="25" fill="#f4f6f9" textLength="369.01" lengthAdjust="spacingAndGlyphs" stroke="#f4f6f9" stroke-width="0.3">Revenue Forecasts and Shipament</text>
<text id="b_l2" x="590.00" y="380.20" font-size="25" fill="#f4f6f9" textLength="329.90" lengthAdjust="spacingAndGlyphs" stroke="#f4f6f9" stroke-width="0.3">with Sheppent of ouprise with</text>
<text id="b_l3" x="587.90" y="406.00" font-size="25" fill="#f4f6f9" textLength="163.61" lengthAdjust="spacingAndGlyphs" stroke="#f4f6f9" stroke-width="0.3">10-Year outleok</text>
<text id="p_c4" x="90.40" y="531.40" font-size="23.5" fill="#f4f6f9" textLength="161.31" lengthAdjust="spacingAndGlyphs" stroke="#f4f6f9" stroke-width="0.5">CAGR4 Forecats</text>
<text id="p_cf" x="330.80" y="531.90" font-size="23.5" fill="#f4f6f9" textLength="129.40" lengthAdjust="spacingAndGlyphs" stroke="#f4f6f9" stroke-width="0.5">CAGR F5,8%</text>
<text id="r_40" x="563.79" y="535.20" font-size="20" fill="#f4f6f9" textLength="20.72" lengthAdjust="spacingAndGlyphs" stroke="#f4f6f9" stroke-width="0.5">40</text>
<text id="r_123" x="886.48" y="514.80" font-size="20" fill="#f4f6f9" textLength="73.92" lengthAdjust="spacingAndGlyphs" stroke="#f4f6f9" stroke-width="0.5">123,97%</text>
<!--TEXT_END-->
</svg>
</body></html>
